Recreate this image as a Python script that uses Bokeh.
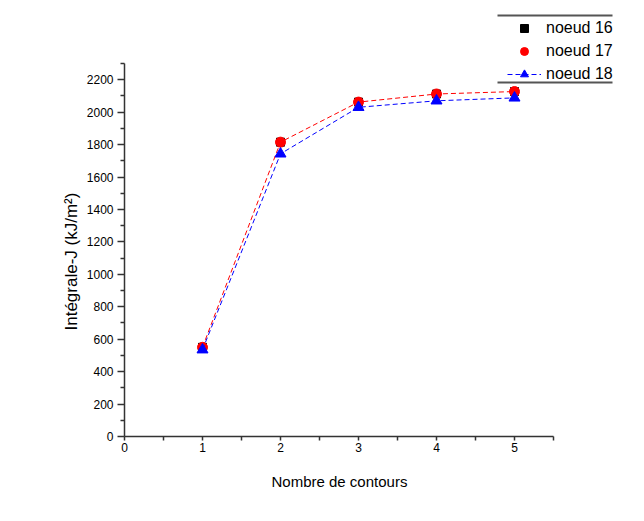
from bokeh.plotting import figure
from bokeh.models import Range1d, Legend, LegendItem, FixedTicker, BoxAnnotation, Title
from bokeh.embed import file_html
from bokeh.resources import INLINE

contours = [1, 2, 3, 4, 5]
noeud16 = [550, 1815, 2062, 2112, 2127]
noeud17 = [550, 1815, 2062, 2112, 2127]
noeud18 = [535, 1743, 2030, 2070, 2088]

x_ticks = [0, 1, 2, 3, 4, 5]
x_minor = [0.5, 1.5, 2.5, 3.5, 4.5, 5.5]
y_ticks = list(range(0, 2201, 200))
y_minor = list(range(100, 2301, 200))
X_AXIS_MAX = 5.5
Y_AXIS_MAX = 2300
X_LABEL = "Nombre de contours"
Y_LABEL = "Intégrale-J (kJ/m²)"

FONT = "Liberation Sans"

FRAME_W = 494
FRAME_H = 431
AXIS_W = 429
AXIS_H = 373

p = figure(width=628, height=505, output_backend="svg", toolbar_location=None,
           x_range=Range1d(0, X_AXIS_MAX * FRAME_W / AXIS_W),
           y_range=Range1d(0, Y_AXIS_MAX * FRAME_H / AXIS_H),
           min_border_left=124, min_border_right=10, min_border_top=5, min_border_bottom=69)
p.frame_width = FRAME_W
p.frame_height = FRAME_H
p.outline_line_color = None
p.grid.visible = False
p.background_fill_color = "white"
p.border_fill_color = "white"

p.xaxis.ticker = FixedTicker(ticks=x_ticks, minor_ticks=x_minor)
p.yaxis.ticker = FixedTicker(ticks=y_ticks, minor_ticks=y_minor)
p.xaxis.bounds = (0, X_AXIS_MAX)
p.yaxis.bounds = (0, Y_AXIS_MAX)

for ax in (p.xaxis[0], p.yaxis[0]):
    ax.axis_line_color = "#333333"
    ax.axis_line_width = 1.5
    ax.major_tick_line_color = "#333333"
    ax.minor_tick_line_color = "#333333"
    ax.major_tick_line_width = 1.5
    ax.minor_tick_line_width = 1.5
    ax.major_tick_in = 0
    ax.minor_tick_in = 0
    ax.major_label_text_font = FONT
    ax.major_label_text_font_size = "12px"
    ax.major_label_text_color = "black"

p.yaxis.major_tick_out = 7
p.yaxis.minor_tick_out = 4
p.yaxis.major_label_standoff = 4

p.xaxis.major_tick_out = 4
p.xaxis.minor_tick_out = 4
p.xaxis.major_label_standoff = 2

# axis titles, placed to sit centred on the drawn axes rather than the wider frame
x_title = Title(text=X_LABEL, align="left", offset=147, standoff=32,
                text_font=FONT, text_font_size="15px", text_font_style="normal",
                text_color="black")
p.add_layout(x_title, "below")
y_title = Title(text=Y_LABEL, align="left", offset=106, standoff=6,
                text_font=FONT, text_font_size="17px", text_font_style="normal",
                text_color="black")
p.add_layout(y_title, "left")

r16 = p.scatter(contours, noeud16, marker="square", size=8, color="black")
l17 = p.line(contours, noeud17, line_color="red", line_width=1, line_dash="5 3")
r17 = p.scatter(contours, noeud17, marker="circle", size=10, color="red")
l18 = p.line(contours, noeud18, line_color="blue", line_width=1, line_dash="5 3")
r18 = p.scatter(contours, noeud18, marker="triangle", size=11, color="blue")

legend = Legend(items=[
    LegendItem(label="noeud 16", renderers=[r16]),
    LegendItem(label="noeud 17", renderers=[r17]),
    LegendItem(label="noeud 18", renderers=[l18, r18]),
], location=(383, 352), padding=0, spacing=3, label_height=20, glyph_height=20,
    glyph_width=34, label_standoff=5, border_line_alpha=0, background_fill_alpha=0,
    label_text_font=FONT, label_text_font_size="16px", label_text_color="black")
p.add_layout(legend, "center")

for y_img in (15, 82):
    p.add_layout(BoxAnnotation(left=497 - 124, right=612 - 124,
                               bottom=436 - y_img - 1, top=436 - y_img + 1,
                               left_units="screen", right_units="screen",
                               top_units="screen", bottom_units="screen",
                               fill_color="#555555", fill_alpha=1, line_alpha=0))

open("out.html", "w").write(file_html(p, INLINE))
